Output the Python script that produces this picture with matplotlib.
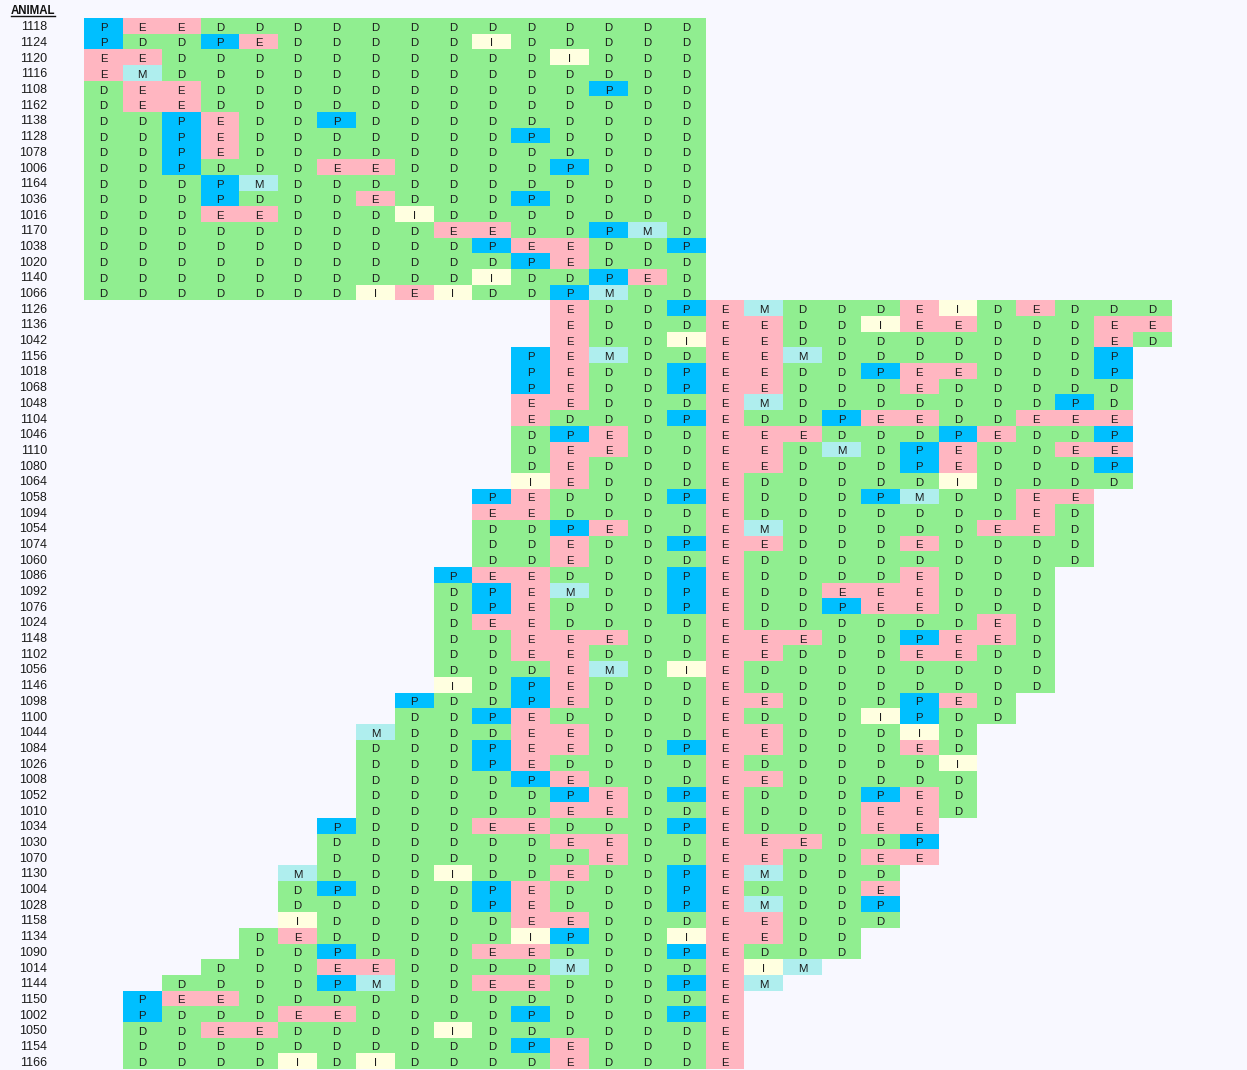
import numpy as np
import matplotlib
matplotlib.use('Agg')
import matplotlib.pyplot as plt
from matplotlib.colors import ListedColormap
from matplotlib.lines import Line2D

plt.rcParams['font.family'] = ['Liberation Sans', 'DejaVu Sans']

animals = [1118, 1124, 1120, 1116, 1108, 1162, 1138, 1128, 1078, 1006, 1164, 1036,
           1016, 1170, 1038, 1020, 1140, 1066, 1126, 1136, 1042, 1156, 1018, 1068,
           1048, 1104, 1046, 1110, 1080, 1064, 1058, 1094, 1054, 1074, 1060, 1086,
           1092, 1076, 1024, 1148, 1102, 1056, 1146, 1098, 1100, 1044, 1084, 1026,
           1008, 1052, 1010, 1034, 1030, 1070, 1130, 1004, 1028, 1158, 1134, 1090,
           1014, 1144, 1150, 1002, 1050, 1154, 1166]

start_period = [0] * 18 + [12] * 3 + [11] * 9 + [10] * 5 + [9] * 8 + [8] * 2 + \
               [7] * 6 + [6] * 3 + [5] * 4 + [4] * 2 + [3] + [2] + [1] * 5

status = [
    "PEEDDDDDDDDDDDDD", "PDDPEDDDDDIDDDDD", "EEDDDDDDDDDDIDDD", "EMDDDDDDDDDDDDDD",
    "DEEDDDDDDDDDDPDD", "DEEDDDDDDDDDDDDD", "DDPEDDPDDDDDDDDD", "DDPEDDDDDDDPDDDD",
    "DDPEDDDDDDDDDDDD", "DDPDDDEEDDDDPDDD", "DDDPMDDDDDDDDDDD", "DDDPDDDEDDDPDDDD",
    "DDDEEDDDIDDDDDDD", "DDDDDDDDDEEDDPMD", "DDDDDDDDDDPEEDDP", "DDDDDDDDDDDPEDDD",
    "DDDDDDDDDDIDDPED", "DDDDDDDIEIDDPMDD",
    "EDDPEMDDDEIDEDDD", "EDDDEEDDIEEDDDEE", "EDDIEEDDDDDDDDED",
    "PEMDDEEMDDDDDDDP", "PEDDPEEDDPEEDDDP", "PEDDPEEDDDEDDDDD", "EEDDDEMDDDDDDDPD",
    "EDDDPEDDPEEDDEEE", "DPEDDEEEDDDPEDDP", "DEEDDEEDMDPEDDEE", "DEDDDEEDDDPEDDDP",
    "IEDDDEDDDDDIDDDD",
    "PEDDDPEDDDPMDDEE", "EEDDDDEDDDDDDDED", "DDPEDDEMDDDDDEED", "DDEDDPEEDDDEDDDD",
    "DDEDDDEDDDDDDDDD",
    "PEEDDDPEDDDDEDDD", "DPEMDDPEDDEEEDDD", "DPEDDDPEDDPEEDDD", "DEEDDDDEDDDDDDED",
    "DDEEEDDEEEDDPEED", "DDEEDDDEEDDDEEDD", "DDDEMDIEDDDDDDDD", "IDPEDDDEDDDDDDDD",
    "PDDPEDDDEEDDDPED", "DDPEDDDDEDDDIPDD",
    "MDDDEEDDDEEDDDID", "DDDPEEDDPEEDDDED", "DDDPEDDDDEDDDDDI", "DDDDPEDDDEEDDDDD",
    "DDDDDPEDPEDDDPED", "DDDDDEEDDEDDDEED",
    "PDDDEEDDDPEDDDEE", "DDDDDDEEDDEEEDDP", "DDDDDDDEDDEEDDEE",
    "MDDDIDDEDDPEMDDD", "DPDDDPEDDDPEDDDE", "DDDDDPEDDDPEMDDP", "IDDDDDEEDDDEEDDD",
    "DEDDDDDIPDDIEEDD", "DDPDDDEEDDDPEDDD",
    "DDDEEDDDDMDDDEIM",
    "DDDDPMDDEEDDDPEM",
    "PEEDDDDDDDDDDDDE", "PDDDEEDDDDPDDDPE", "DDEEDDDDIDDDDDDE", "DDDDDDDDDDPEDDDE",
    "DDDDIDIDDDDEDDDE",
]

status_codes = ['D', 'E', 'P', 'M', 'I']
status_colors = ['#90EE90', '#FFB6C1', '#00BFFF', '#AFEEEE', '#FFFFE0']
bg = '#F8F8FF'

n_rows = len(animals)
n_cols = max(s + len(seq) for s, seq in zip(start_period, status))

grid = np.full((n_rows, n_cols), np.nan)
for r, (s, seq) in enumerate(zip(start_period, status)):
    for k, ch in enumerate(seq):
        grid[r, s + k] = status_codes.index(ch)

W, H = 1247, 1070
fig = plt.figure(figsize=(W / 100, H / 100), dpi=100, facecolor=bg)
left, right, top, bottom = 84, 1171.7, 18, 1069
ax = fig.add_axes([left / W, 1 - bottom / H, (right - left) / W, (bottom - top) / H])
ax.set_facecolor(bg)

cmap = ListedColormap(status_colors)
cmap.set_bad(bg)
ax.pcolormesh(np.arange(n_cols + 1) - 0.5, np.arange(n_rows + 1) - 0.5,
              np.ma.masked_invalid(grid), cmap=cmap, vmin=-0.5, vmax=4.5,
              edgecolors='none', antialiased=False)

for r, (s, seq) in enumerate(zip(start_period, status)):
    for k, ch in enumerate(seq):
        ax.text(s + k, r + 0.06, ch, ha='center', va='center_baseline', fontsize=8.2,
                color='#1a1a1a')

ax.set_xlim(-0.5, n_cols - 0.5)
ax.set_ylim(n_rows - 0.5, -0.5)
for sp in ax.spines.values():
    sp.set_visible(False)
ax.set_xticks([])
ax.set_yticks(range(n_rows))
ax.set_yticklabels([str(a) for a in animals], fontsize=9, color='#1a1a1a')
ax.tick_params(axis='y', length=0, pad=(left - 47) * 0.72)

fig.text(11 / W, 1 - 11 / H, 'ANIMAL', fontweight='bold', fontsize=8.3,
         ha='left', va='center', color='#111111')
fig.add_artist(Line2D([11 / W, 55 / W], [1 - 16 / H, 1 - 16 / H], color='#111111',
                      lw=1.0, transform=fig.transFigure))

fig.savefig('out.png', dpi=100, facecolor=bg)
